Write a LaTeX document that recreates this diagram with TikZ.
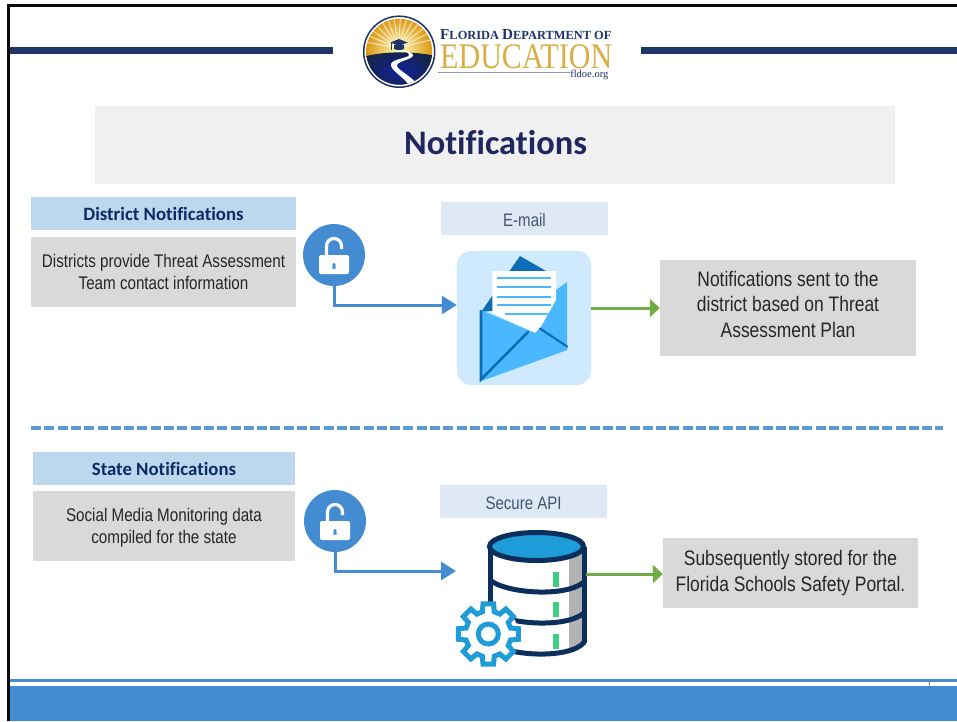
\documentclass[tikz,border=0pt]{standalone}
\usepackage{fontspec}
\setmainfont{Liberation Sans}[FakeStretch=0.83]
\newfontfamily\headfont{Carlito}[Ligatures=CommonOff]
\newfontfamily\logoserif{Liberation Serif}
\newfontfamily\logonarrow{Liberation Serif}[FakeStretch=0.835]
\usetikzlibrary{arrows.meta,shapes.geometric}
\definecolor{frameblack}{HTML}{0A0A0A}
\definecolor{barnavy}{HTML}{1F3566}
\definecolor{flowblue}{HTML}{438CD1}
\definecolor{dashblue}{HTML}{5B9BD5}
\definecolor{flowgreen}{HTML}{70AD47}
\definecolor{headblue}{HTML}{BDD7EE}
\definecolor{labelblue}{HTML}{DEE9F5}
\definecolor{notegrey}{HTML}{D9D9D9}
\definecolor{titlegrey}{HTML}{F0F0F0}
\definecolor{titleink}{HTML}{20275F}
\definecolor{headink}{HTML}{0B2A66}
\definecolor{labelink}{HTML}{44546A}
\definecolor{noteink}{HTML}{262626}
\definecolor{mailpale}{HTML}{CFEAFF}
\definecolor{maillight}{HTML}{4AB8FF}
\definecolor{maildark}{HTML}{0A6DB5}
\definecolor{dbnavy}{HTML}{0B2F5C}
\definecolor{dbblue}{HTML}{1E9CD8}
\definecolor{dbtick}{HTML}{3CCF80}
\definecolor{logogold}{HTML}{D9AE45}
\definecolor{logonavy}{HTML}{1C3468}
\tikzset{
  headbox/.style={fill=headblue,inner sep=0pt,text=headink,font=\headfont\bfseries\fontsize{18.8}{20}\selectfont},
  notebox/.style={fill=notegrey,inner sep=0pt,text=noteink,align=center,font=\fontsize{18.3}{22}\selectfont},
  bignote/.style={notebox,font=\fontsize{21}{25.5}\selectfont},
  labelbox/.style={fill=labelblue,inner sep=0pt,minimum width=167pt,minimum height=33pt,text height=15pt,text depth=0pt,text=labelink,font=\fontsize{18.1}{20}\selectfont},
  lockdot/.style={circle,fill=flowblue,inner sep=0pt,minimum size=62pt},
  blueflow/.style={flowblue,line width=3pt,-{Triangle[length=15pt,width=18pt]}},
  greenflow/.style={flowgreen,line width=3pt,-{Triangle[length=10pt,width=18pt]}},
  gearline/.style={dbblue,line width=5pt,fill=white,line join=miter},
  dbline/.style={dbnavy,line width=5pt},
  lockpic/.pic={
    \draw[white,line width=3.2pt] (-7.5,2) -- (-7.5,-9) arc (180:360:7.5) -- (7.5,-6);
    \fill[white,rounded corners=2pt] (-15,0) rectangle (15,19);
    \fill[flowblue] (0,9.5) circle (1.7pt);
    \fill[flowblue] (-1.2,9.5) -- (1.2,9.5) -- (1.8,13.5) -- (-1.8,13.5) -- cycle;
  }
}
\begin{document}
\begin{tikzpicture}[x=1pt,y=-1pt]
  \useasboundingbox (0,0) rectangle (957,721);
  \fill[white] (0,0) rectangle (957,721);
  \draw[frameblack,line width=2.5pt] (8.5,721) -- (8.5,5.7) -- (957,5.7);
  \fill[barnavy] (10,47) rectangle (333,54);
  \fill[barnavy] (641,47) rectangle (957,54);

  \node[circle,draw=logonavy,line width=1.5pt,fill=white,inner sep=0pt,minimum size=71pt] (logoSeal) at (399.2,51.7) {};
  \begin{scope}
    \clip (logoSeal) circle (33pt);
    \shade[inner color=yellow!25!white,outer color=orange!70!yellow!85!black] (399.2,50) circle (36pt);
    \foreach \a in {190,202,...,350}
      \draw[white,opacity=.65,line width=1pt] (398.3,48) -- ++(\a:34);
    \shade[inner color=logonavy!65!blue,outer color=logonavy!70!black] (362,57) .. controls (385,51) and (412,51) .. (436,56) -- (436,90) -- (362,90) -- cycle;
    \fill[white] (397,50) .. controls (404,51) and (409,52) .. (409,55) .. controls (409,58) and (392,59) .. (391,64) .. controls (390,71) and (404,76) .. (411,88)
      -- (420,88) .. controls (412,75) and (396,70) .. (397,65) .. controls (398,61) and (414,59) .. (413,55) .. controls (412,52) and (405,50) .. (400,50) -- cycle;
  \end{scope}
  \fill[logonavy] (399,39) -- (407.5,42.5) -- (399,46) -- (390.5,42.5) -- cycle;
  \fill[logonavy] (394,45) -- (404,45) -- (404,49) .. controls (401,50.5) and (397,50.5) .. (394,49) -- cycle;
  \draw[logonavy,line width=.8pt] (391.5,43) -- (391.5,50);
  \node[inner sep=0pt,anchor=base west,text=logonavy,font=\logoserif\bfseries] (logoTop) at (440,39.6)
    {\fontsize{15.2}{16}\selectfont F\fontsize{12.4}{16}\selectfont LORIDA \fontsize{15.2}{16}\selectfont D\fontsize{12.4}{16}\selectfont EPARTMENT OF};
  \node[inner sep=0pt,anchor=base west,text=logogold,font=\logonarrow\fontsize{36}{36}\selectfont] (logoMain) at (440,68) {EDUCATION};
  \node[inner sep=0pt,anchor=base east,text=logonavy,font=\logoserif\fontsize{10.5}{11}\selectfont] (logoWeb) at (608.5,77.5) {fldoe.org};
  \draw[logonavy!50!white,line width=1pt] (438,72.7) -- (logoWeb.west|-0,72.7);

  \node[fill=titlegrey,minimum width=800pt,minimum height=78pt,inner sep=0pt] (titleBox) at (495,145) {};
  \node[inner sep=0pt,text=titleink,font=\headfont\bfseries\fontsize{34.4}{36}\selectfont] (titleText) at (495.5,143) {Notifications};

  \node[headbox,minimum width=265pt,minimum height=33pt] (districtHead) at (163.5,213.5) {District Notifications};
  \node[notebox,minimum width=265pt,minimum height=70pt] (districtNote) at (163.5,272) {Districts provide Threat Assessment\\Team contact information};
  \node[lockdot] (lockA) at (334,255) {};
  \pic at (lockA) {lockpic};
  \node[labelbox] (mailLabel) at (524.5,218.5) {E-mail};
  \node[fill=mailpale,rounded corners=14pt,minimum size=134pt,inner sep=0pt] (mailIcon) at (524,318) {};
  \coordinate (mailIn) at (mailIcon.west|-0,305);
  \fill[maildark] (481,312) -- (520,256) -- (546,271) -- (546,305) -- cycle;
  \fill[maillight] (556,290) -- (567,282) -- (567,347) -- (540,328) -- cycle;
  \fill[white] (492.3,271) -- (556,271) -- (556,300) -- (540.7,327) -- (536,333) -- (497,315) -- (492.3,313) -- cycle;
  \foreach \ly in {278.3,287.3,296.7,305.3}
    \draw[maillight,line width=2pt] (497.3,\ly) -- (551,\ly);
  \draw[maillight,line width=2pt] (505,314) -- (548,314);
  \fill[maillight] (481,310) -- (535,333) -- (540,328) -- (567.3,347) -- (567.3,350) -- (483,380.5) -- (481,380) -- cycle;
  \draw[maildark,line width=2.6pt,line cap=round] (481,311) -- (481,379.5) -- (528,332);
  \draw[maildark,line width=2.2pt,line cap=round] (540,328.5) -- (567,346.5);
  \node[bignote,text depth=7.4pt,minimum width=256pt,minimum height=96pt] (districtSent) at (788,308) {Notifications sent to the\\district based on Threat\\Assessment Plan};
  \draw[blueflow] (lockA.south) |- (mailIn);
  \path[greenflow] (mailIcon.east|-districtSent) edge (districtSent);

  \draw[dashblue,line width=3.2pt,dash pattern=on 10pt off 3.3pt] (31,428) -- (943,428);

  \node[headbox,minimum width=262pt,minimum height=33pt] (stateHead) at (164,468.5) {State Notifications};
  \node[notebox,text depth=0pt,minimum width=262pt,minimum height=70pt] (stateNote) at (164,526) {Social Media Monitoring data\\compiled for the state};
  \node[lockdot] (lockB) at (335,521) {};
  \pic at (lockB) {lockpic};
  \node[labelbox] (apiLabel) at (523.5,501.5) {Secure API};
  \coordinate (dbIn) at (456,571);
  \coordinate (dbOut) at (586,574);
  \fill[white] (490,547) -- (490,640) -- (583,640) -- (583,547) -- cycle;
  \fill[black!30] (569,555) -- (583,552) -- (583,643) -- (569,651) -- cycle;
  \foreach \ty in {572,602,634}
    \fill[dbtick] (553.3,\ty) rectangle (559.3,\ty+15);
  \draw[dbline] (490,547) -- (490,625);
  \draw[dbline] (584.5,547) -- (584.5,643);
  \draw[dbline] (490,580) .. controls (505,593) and (565,598) .. (584,582);
  \draw[dbline] (490,611) .. controls (505,624) and (565,629) .. (584,613);
  \draw[dbline] (490,642) .. controls (505,656) and (570,660) .. (584.5,642);
  \node[ellipse,draw=dbnavy,line width=5pt,fill=dbblue,minimum width=94pt,minimum height=28pt,inner sep=0pt] (dbTop) at (536.5,546.5) {};
  \coordinate (gearHub) at (488.3,634);
  \begin{scope}[shift={(gearHub)}]
    \fill[white] (0,0) circle (30pt);
    \draw[gearline] (-15:23) \foreach \a in {0,45,...,315} {-- (\a-15:23) -- (\a-10:30.5) -- (\a+10:30.5) -- (\a+15:23)} -- cycle;
    \draw[dbblue,line width=5pt] (0,0) circle (10pt);
  \end{scope}
  \node[bignote,minimum width=255pt,minimum height=70pt] (stateStored) at (790.5,573) {Subsequently stored for the\\Florida Schools Safety Portal.};
  \draw[blueflow] (lockB.south) |- (dbIn);
  \path[greenflow] (dbOut) edge (stateStored.west|-dbOut);

  \draw[black!55,line width=.8pt] (930,681) -- (929,685.5);
  \fill[flowblue] (10,678.5) rectangle (957,681.5);
  \fill[flowblue] (10,685.5) rectangle (957,721);
\end{tikzpicture}
\end{document}
